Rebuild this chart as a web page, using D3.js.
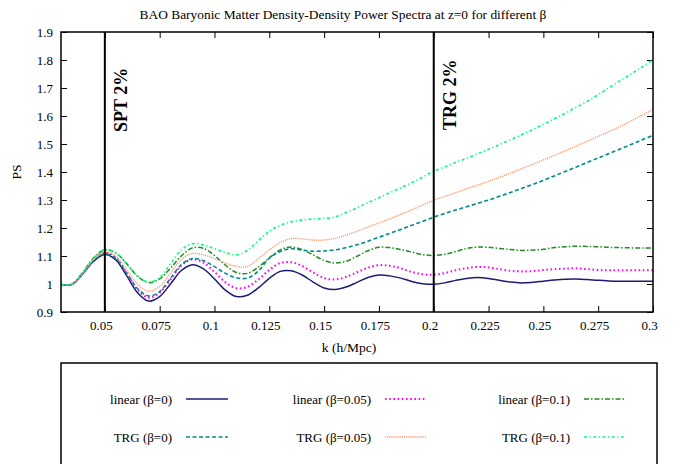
<!DOCTYPE html>
<html><head><meta charset="utf-8">
<script src="https://cdn.jsdelivr.net/npm/d3@7"></script>
<style>
body{margin:0;background:#fff}
text{font-family:"Liberation Serif","Times New Roman",serif;fill:#000}
</style>
</head><body>
<svg id="c" width="686" height="464"></svg>
<script>
// ---- data ----
const kValues = [0.030,0.035,0.040,0.045,0.050,0.055,0.060,0.065,0.070,0.075,0.080,0.085,0.090,0.095,0.100,0.105,0.110,0.115,0.120,0.125,0.130,0.135,0.140,0.145,0.150,0.155,0.160,0.165,0.170,0.175,0.180,0.185,0.190,0.195,0.200,0.205,0.210,0.215,0.220,0.225,0.230,0.235,0.240,0.245,0.250,0.255,0.260,0.265,0.270,0.275,0.280,0.285,0.290,0.295,0.300];

const linearBeta0 = [0.998,0.998,1.037,1.082,1.105,1.086,1.029,0.968,0.939,0.955,1.001,1.049,1.069,1.054,1.018,0.978,0.955,0.960,0.986,1.020,1.045,1.047,1.032,1.007,0.986,0.980,0.989,1.006,1.023,1.032,1.029,1.021,1.009,1.001,0.999,1.004,1.013,1.020,1.023,1.020,1.013,1.007,1.004,1.006,1.010,1.014,1.017,1.018,1.016,1.013,1.011,1.010,1.010,1.010,1.010];

const linearBeta005 = [0.998,0.999,1.040,1.087,1.112,1.094,1.039,0.979,0.951,0.969,1.017,1.067,1.088,1.076,1.043,1.006,0.985,0.990,1.016,1.050,1.075,1.078,1.064,1.041,1.021,1.016,1.025,1.042,1.058,1.067,1.065,1.056,1.043,1.035,1.033,1.039,1.049,1.057,1.061,1.059,1.053,1.047,1.045,1.046,1.050,1.053,1.055,1.056,1.053,1.050,1.049,1.049,1.049,1.049,1.049];

const linearBeta01 = [0.998,1.000,1.042,1.094,1.122,1.111,1.072,1.027,1.005,1.018,1.057,1.101,1.129,1.127,1.102,1.067,1.041,1.038,1.060,1.093,1.122,1.132,1.123,1.104,1.084,1.075,1.081,1.099,1.119,1.131,1.130,1.123,1.114,1.105,1.102,1.106,1.116,1.127,1.132,1.131,1.127,1.123,1.120,1.121,1.124,1.130,1.133,1.135,1.134,1.133,1.131,1.130,1.129,1.129,1.129];

const trgBeta0 = [0.998,0.999,1.038,1.085,1.108,1.091,1.038,0.983,0.957,0.973,1.021,1.070,1.091,1.083,1.062,1.038,1.022,1.021,1.046,1.092,1.116,1.126,1.121,1.117,1.118,1.122,1.130,1.140,1.153,1.167,1.181,1.195,1.210,1.224,1.239,1.252,1.264,1.276,1.288,1.300,1.313,1.327,1.341,1.355,1.370,1.386,1.402,1.418,1.434,1.450,1.466,1.482,1.498,1.515,1.531];

const trgBeta005 = [0.998,0.999,1.039,1.088,1.115,1.099,1.051,0.999,0.974,0.991,1.039,1.088,1.109,1.104,1.090,1.074,1.063,1.062,1.090,1.122,1.148,1.162,1.161,1.157,1.157,1.163,1.174,1.188,1.203,1.218,1.233,1.249,1.265,1.282,1.299,1.313,1.326,1.340,1.353,1.367,1.381,1.396,1.412,1.427,1.443,1.459,1.476,1.493,1.510,1.527,1.544,1.562,1.582,1.603,1.623];

const trgBeta01 = [0.998,1.000,1.041,1.093,1.123,1.111,1.071,1.028,1.007,1.024,1.073,1.123,1.144,1.139,1.126,1.112,1.104,1.120,1.155,1.188,1.210,1.222,1.229,1.232,1.234,1.240,1.255,1.272,1.290,1.308,1.326,1.344,1.362,1.382,1.403,1.418,1.434,1.449,1.465,1.481,1.498,1.515,1.533,1.551,1.570,1.590,1.610,1.631,1.652,1.676,1.701,1.726,1.750,1.775,1.801];

const seriesNames = ["linear (β=0)","linear (β=0.05)","linear (β=0.1)","TRG (β=0)","TRG (β=0.05)","TRG (β=0.1)"];
const xTicks = [0.05,0.075,0.1,0.125,0.15,0.175,0.2,0.225,0.25,0.275,0.3];
const xTickLabels = ["0.05","0.075","0.1","0.125","0.15","0.175","0.2","0.225","0.25","0.275","0.3"];
const yTicks = [0.9,1.0,1.1,1.2,1.3,1.4,1.5,1.6,1.7,1.8,1.9];
const yTickLabels = ["0.9","1","1.1","1.2","1.3","1.4","1.5","1.6","1.7","1.8","1.9"];
const markerK = [0.05,0.2];
const markerLabels = ["SPT 2%","TRG 2%"];
const titleText = "BAO Baryonic Matter Density-Density Power Spectra at z=0 for different β";
const xLabel = "k (h/Mpc)";
const yLabel = "PS";

// ---- styles ----
const styles = [
  {color:"#1c1c74", dash:null, width:1.5},
  {color:"#ff00ff", dash:"1.6,2.6", width:2},
  {color:"#228b22", dash:"5,2,1.5,2", width:1.5},
  {color:"#008b8b", dash:"4,2.5", width:1.6},
  {color:"#ff9a70", dash:"1.2,0.9", width:1.4},
  {color:"#00ff7f", dash:"3,2.5,1.2,2.5", width:1.6}
];
const seriesValues = [linearBeta0, linearBeta005, linearBeta01, trgBeta0, trgBeta005, trgBeta01];

const svg = d3.select("#c");
const L=61, R=653, T=32, B=312;
const x = d3.scaleLinear().domain([0.03,0.3]).range([L,R]);
const y = d3.scaleLinear().domain([0.9,1.9]).range([B,T]);

// title
svg.append("text").attr("x",343).attr("y",19).attr("text-anchor","middle")
  .style("font-size","13.4px").text(titleText);

// axes (inward ticks)
const fmtX = (d,i)=>xTickLabels[i];
const fmtY = (d,i)=>yTickLabels[i];
const gB = svg.append("g").attr("transform",`translate(0,${B})`)
  .call(d3.axisBottom(x).tickValues(xTicks).tickFormat(fmtX).tickSize(-6).tickPadding(9));
const gT = svg.append("g").attr("transform",`translate(0,${T})`)
  .call(d3.axisTop(x).tickValues(xTicks).tickFormat("").tickSize(-6));
const gL = svg.append("g").attr("transform",`translate(${L},0)`)
  .call(d3.axisLeft(y).tickValues(yTicks).tickFormat(fmtY).tickSize(-6).tickPadding(8));
const gR = svg.append("g").attr("transform",`translate(${R},0)`)
  .call(d3.axisRight(y).tickValues(yTicks).tickFormat("").tickSize(-6));
[gB,gT,gL,gR].forEach(g=>{
  g.attr("font-family",null);
  g.select(".domain").remove();
  g.selectAll(".tick line").attr("stroke","#000").attr("stroke-width",1);
  g.selectAll("text").style("font-size","13px").attr("fill","#000");
});
gB.selectAll(".tick text").attr("dx","-4");

// axis labels
svg.append("text").attr("x",349).attr("y",352).attr("text-anchor","middle")
  .style("font-size","13.5px").text(xLabel);
svg.append("text").attr("transform","translate(21,172) rotate(-90)").attr("text-anchor","middle")
  .style("font-size","13.5px").text(yLabel);

// clip
svg.append("clipPath").attr("id","clip").append("rect")
  .attr("x",L).attr("y",T).attr("width",R-L).attr("height",B-T);

const line = d3.line().x(d=>x(d[0])).y(d=>y(d[1])).curve(d3.curveCatmullRom.alpha(0.5));
const gLines = svg.append("g").attr("clip-path","url(#clip)");
seriesValues.forEach((vals,i)=>{
  const pts = kValues.map((k,j)=>[k,vals[j]]);
  gLines.append("path").datum(pts).attr("d",line)
    .attr("fill","none").attr("stroke",styles[i].color)
    .attr("stroke-width",styles[i].width)
    .attr("stroke-dasharray",styles[i].dash);
});

// vertical markers
markerK.forEach((k,i)=>{
  svg.append("line").attr("x1",x(k)).attr("x2",x(k)).attr("y1",T).attr("y2",B)
    .attr("stroke","#000").attr("stroke-width",2);
  const tx = x(k)+22, ty = i===0?132:130;
  svg.append("text").attr("transform",`translate(${tx},${ty}) rotate(-90)`)
    .style("font-size","18px").style("font-weight","bold").text(markerLabels[i]);
});

// border
svg.append("rect").attr("x",L).attr("y",T).attr("width",R-L).attr("height",B-T)
  .attr("fill","none").attr("stroke","#000").attr("stroke-width",1.5);

// legend
svg.append("rect").attr("x",61).attr("y",363).attr("width",596).attr("height",200)
  .attr("fill","none").attr("stroke","#000").attr("stroke-width",1.5);
const rowY = [399,437];
seriesNames.forEach((name,i)=>{
  const col = i%3, row = Math.floor(i/3);
  const tx = 172 + 199*col;
  const yy = rowY[row];
  svg.append("text").attr("x",tx).attr("y",yy+4.5).attr("text-anchor","end")
    .style("font-size","13px").text(name);
  svg.append("line").attr("x1",tx+14).attr("x2",tx+56).attr("y1",yy).attr("y2",yy)
    .attr("stroke",styles[i].color).attr("stroke-width",styles[i].width)
    .attr("stroke-dasharray",styles[i].dash);
});
</script>
</body></html>
